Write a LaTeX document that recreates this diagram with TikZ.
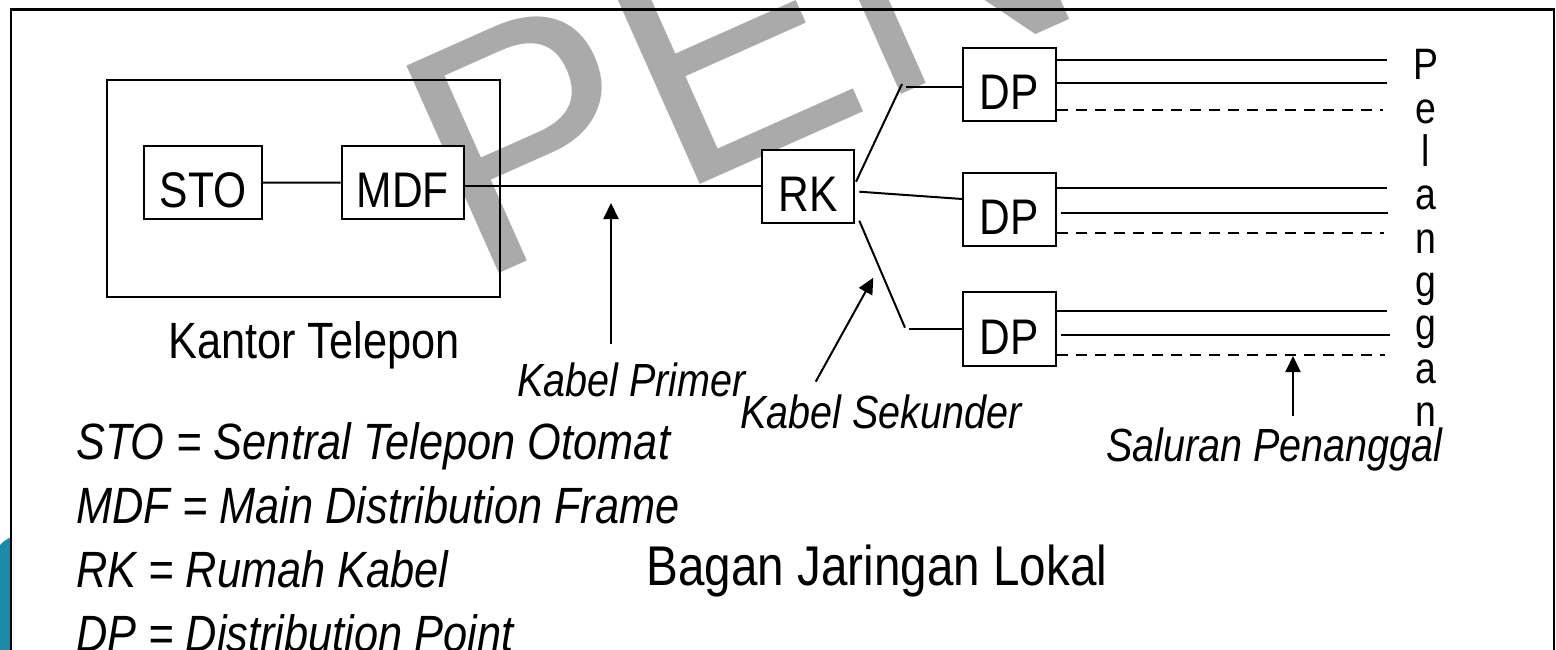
\documentclass[tikz,border=0pt]{standalone}
\usepackage{fontspec}
\setmainfont{Liberation Sans}[FakeStretch=0.85]
\newfontfamily\wmfont{Liberation Sans}
\usetikzlibrary{arrows.meta}
\definecolor{wmgray}{RGB}{170,170,170}
\definecolor{cornerblue}{RGB}{28,138,168}

\begin{document}
\begin{tikzpicture}[x=1pt,y=-1pt,
  frameline/.style={line width=2.2pt},
  box/.style={draw, fill=white, line width=2.2pt, inner sep=0pt,
    text height=50pt, text depth=0pt, font=\fontsize{50}{50}\selectfont},
  lab/.style={font=\fontsize{46.5}{46.5}\selectfont\itshape, inner sep=0pt, anchor=base west},
  legend/.style={font=\fontsize{51}{51}\selectfont\itshape, inner sep=0pt, anchor=base west},
  title/.style={inner sep=0pt, anchor=base},
  pointer/.style={-{Triangle[length=16pt,width=15pt]}, line width=2pt},
  wire/.style={line width=2pt},
  spare/.style={line width=2pt, dash pattern=on 11pt off 8pt}]

\useasboundingbox (0,0) rectangle (1556,650);

% corner ornament
\fill[cornerblue] (0,545) .. controls (4,541) .. (11,537) -- (11,650) -- (0,650) -- cycle;

% watermark
\begin{scope}
  \clip (0,0) rectangle (1556,650);
  \node[rotate=24, anchor=base west, inner sep=0pt, text=wmgray,
        font=\wmfont\fontsize{330}{330}\selectfont] (wm) at (474,285) {PEN};
\end{scope}

% outer frame
\draw[frameline] (11,660) -- (11,9.5) -- (1554,9.5) -- (1554,660);

% telephone office
\node[draw, frameline, inner sep=0pt, minimum width=393pt, minimum height=217pt] (kantor) at (303.5,188.5) {};
\node[title, font=\fontsize{51}{51}\selectfont] (kantorlbl) at (314,358) {Kantor Telepon};

% fixed points of the cables
\coordinate (fa) at (856,181.7);
\coordinate (fb) at (902,84);
\coordinate (fc) at (906,87);
\coordinate (fd) at (859.3,191.7);
\coordinate (fe) at (900,199);
\coordinate (ff) at (859.3,220.7);
\coordinate (fg) at (905,327.7);
\coordinate (fh) at (909.3,329);

% boxes
\node[box, minimum width=118pt, minimum height=73pt] (sto) at (203,182.5) {STO};
\node[box, minimum width=122pt, minimum height=73.3pt] (mdf) at (402.75,182.65) {MDF};
\node[box, minimum width=92pt, minimum height=72.7pt] (rk) at (808,186.35) {RK};
\node[box, minimum width=92.4pt, minimum height=72.4pt] (dp1) at (1009.5,84.5) {DP};
\node[box, minimum width=92.4pt, minimum height=72.7pt] (dp2) at (1009.5,209.65) {DP};
\node[box, minimum width=92.4pt, minimum height=73.4pt] (dp3) at (1009.5,329) {DP};

% primary cable
\draw[wire] (sto) -- (mdf);
\draw[wire] (mdf.east |- rk.west) -- (rk.west);

% secondary cables
\draw[wire] (fa) -- (fb);
\draw[wire] (fc) -- (fc -| dp1.west);
\draw[wire] (fd) -- (fe -| dp2.west);
\draw[wire] (ff) -- (fg);
\draw[wire] (fh) -- (fh -| dp3.west);

% subscriber lines
\coordinate (a1) at (1387,60);   \coordinate (a2) at (1387,83.3);  \coordinate (a3) at (1383,110);
\coordinate (b1) at (1387,188.3);\coordinate (b2) at (1388,212.7); \coordinate (b3) at (1384,232.7);
\coordinate (c1) at (1387,311);  \coordinate (c2) at (1390,335);   \coordinate (c3) at (1385,355);
\draw[wire] (a1 -| dp1.east) -- (a1);
\draw[wire] (a2 -| dp1.east) -- (a2);
\draw[spare] (a3 -| dp1.east) -- (a3);
\draw[wire] (b1 -| dp2.east) -- (b1);
\draw[wire] ([xshift=4pt]b2 -| dp2.east) -- (b2);
\draw[spare] (b3 -| dp2.east) -- (b3);
\draw[wire] (c1 -| dp3.east) -- (c1);
\draw[wire] ([xshift=4pt]c2 -| dp3.east) -- (c2);
\draw[spare] (c3 -| dp3.east) -- (c3);

% subscriber label, one letter per line
\foreach \ch [count=\i from 0] in {P,e,l,a,n,g,g,a,n}
  \node[title, font=\fontsize{44}{44}\selectfont] (pel\i) at (1426,80+43.3*\i) {\ch};

% pointers and their captions
\coordinate (primtail) at (611,344);   \coordinate (primtip) at (611,203);
\coordinate (sektail) at (815.7,381.7); \coordinate (sektip) at (873.3,277.7);
\coordinate (saltail) at (1293,415.7); \coordinate (saltip) at (1293,356);
\draw[pointer] (primtail) -- (primtip);
\draw[pointer] (sektail) -- (sektip);
\draw[pointer] (saltail) -- (saltip);
\node[lab] (primlbl) at (517,396) {Kabel Primer};
\node[lab] (seklbl) at (740,428.3) {Kabel Sekunder};
\node[lab] (sallbl) at (1106,461.7) {Saluran Penanggal};

% legend
\node[legend] (lg1) at (76,459) {STO = Sentral Telepon Otomat};
\node[legend] (lg2) at (76,523) {MDF = Main Distribution Frame};
\node[legend] (lg3) at (76,587) {RK = Rumah Kabel};
\node[legend] (lg4) at (76,651) {DP = Distribution Point};

% caption
\node[title, font=\fontsize{56}{56}\selectfont] (caption) at (877,585) {Bagan Jaringan Lokal};

\end{tikzpicture}
\end{document}
